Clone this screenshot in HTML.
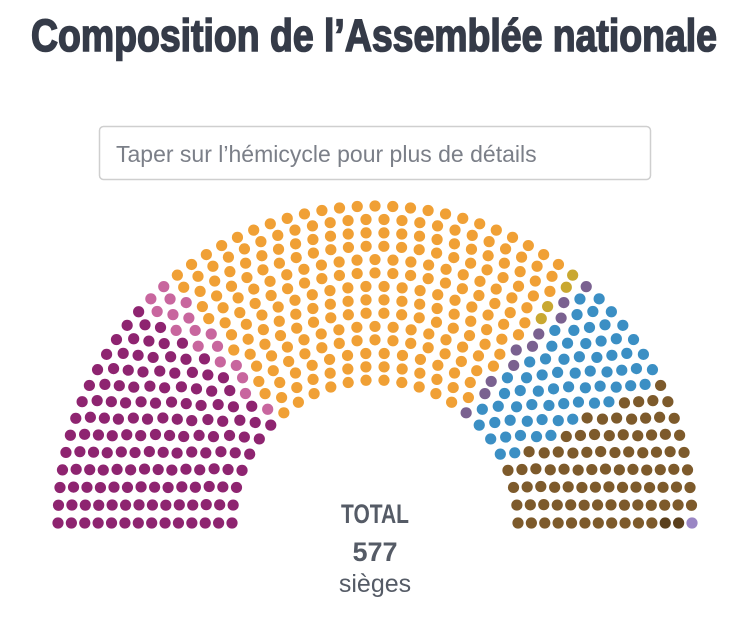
<!DOCTYPE html>
<html><head><meta charset="utf-8">
<style>
html,body{margin:0;padding:0;background:#fff;width:750px;height:635px;overflow:hidden;}
svg{display:block;}
</style></head>
<body>
<svg id="chart" width="750" height="635" viewBox="0 0 750 635">
  <text x="31" y="51" textLength="686" lengthAdjust="spacingAndGlyphs" font-family="'Liberation Sans Narrow','Liberation Sans',sans-serif" font-weight="bold" font-size="45" fill="#353b48" stroke="#353b48" stroke-width="1.6">Composition de l’Assemblée nationale</text>
  <g>
    <rect x="99.5" y="126.5" width="551" height="53" rx="4" fill="#fff" stroke="#cfcfcf" stroke-width="1.5"></rect>
    <text x="116" y="162" font-family="'Liberation Sans',sans-serif" font-size="23" fill="#7b7f88">Taper sur l’hémicycle pour plus de détails</text>
  </g>
  <g id="seats"></g>
  <text x="341" y="523" textLength="68" lengthAdjust="spacingAndGlyphs" font-family="'Liberation Sans Narrow','Liberation Sans',sans-serif" font-weight="bold" font-size="27" fill="#555b66">TOTAL</text>
  <text x="375" y="561" text-anchor="middle" font-family="'Liberation Sans',sans-serif" font-weight="bold" font-size="27" fill="#555b66">577</text>
  <text x="375" y="592" text-anchor="middle" font-family="'Liberation Sans',sans-serif" font-size="25" fill="#555b66">sièges</text>
</svg>
<script>
const parties = ["nupes","dvg","ensemble","dvc","regionalistes","lr-udc","rn","dxd","div"];
const seatCounts = [145,17,245,4,10,67,86,2,1];
const partyColors = ["#8e2470","#c8669e","#f0a035","#c9a830","#7a6190","#3b8fc4","#7d5a2b","#5a3f1c","#9a86c4"];

const cx = 375, cy = 523, rIn = 143, rOut = 317, nRows = 14, dotR = 5.6;
const total = seatCounts.reduce((a,b)=>a+b,0);
const radii = [];
for (let i=0;i<nRows;i++) radii.push(rIn + i*(rOut-rIn)/(nRows-1));
const sumR = radii.reduce((a,b)=>a+b,0);
let perRow = radii.map(r => Math.floor(total*r/sumR));
let rem = total - perRow.reduce((a,b)=>a+b,0);
const fr = radii.map((r,i)=>({i, f: total*r/sumR - perRow[i]})).sort((a,b)=>b.f-a.f);
for (let k=0;k<rem;k++) perRow[fr[k % nRows].i]++;
const seats = [];
radii.forEach((r,i)=>{
  const n = perRow[i];
  for (let j=0;j<n;j++){
    const a = Math.PI - Math.PI*j/(n-1);
    seats.push({a, r, row:i});
  }
});
seats.sort((p,q)=> (q.a - p.a) || (p.r - q.r));
const g = document.getElementById('seats');
let idx = 0;
seatCounts.forEach((cnt,p)=>{
  for (let k=0;k<cnt && idx<seats.length;k++,idx++){
    const s = seats[idx];
    const c = document.createElementNS('http://www.w3.org/2000/svg','circle');
    c.setAttribute('cx', (cx + s.r*Math.cos(s.a)).toFixed(2));
    c.setAttribute('cy', (cy - s.r*Math.sin(s.a)).toFixed(2));
    c.setAttribute('r', dotR);
    c.setAttribute('fill', partyColors[p]);
    
    
    g.appendChild(c);
  }
});
</script>
</body></html>
